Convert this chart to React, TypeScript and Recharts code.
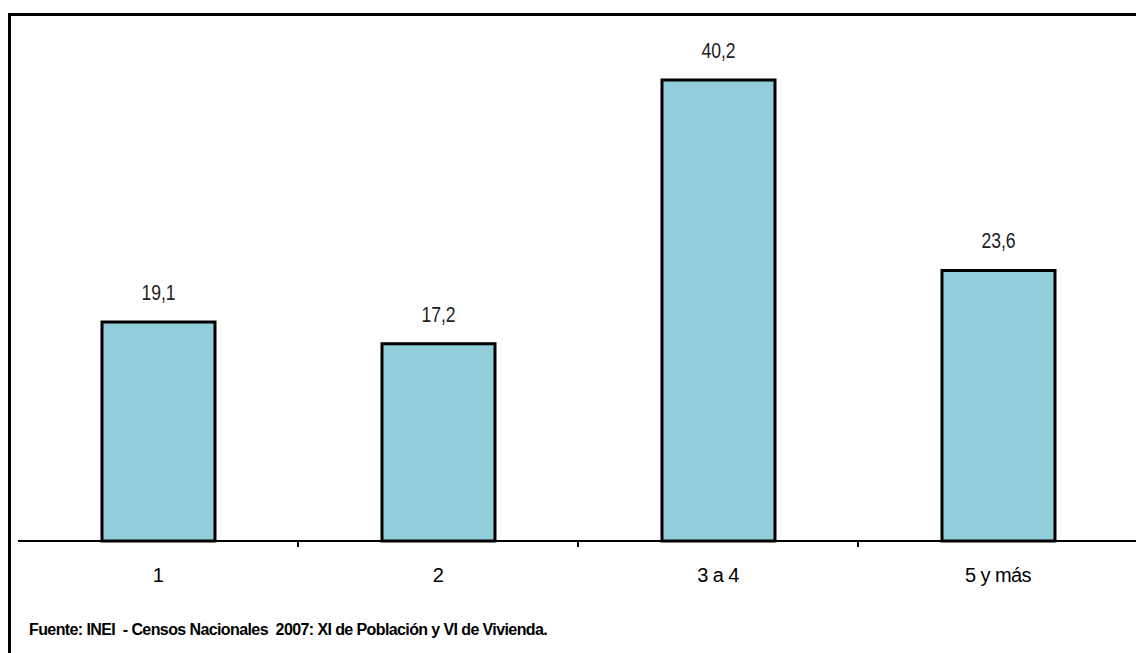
import React from "react";
import { BarChart, Bar, XAxis, YAxis, LabelList } from "recharts";

const categories = ["1", "2", "3 a 4", "5 y más"];
const values = [19.1, 17.2, 40.2, 23.6];
const yDomain = [0, 45];
const source = "Fuente: INEI  - Censos Nacionales  2007: XI de Población y VI de Vivienda.";

const data = categories.map((c, i) => ({ cat: c, value: values[i] }));

const fmt = (v: any) => String(v).replace(".", ",");

const CatTick = (props: any) => {
  const { x, y, payload, index } = props;
  const axisY = y - 24;
  return (
    <g>
      {index > 0 ? (
        <line x1={x - payload.offset} x2={x - payload.offset} y1={axisY} y2={axisY + 6} stroke="#000" strokeWidth={2} />
      ) : null}
      <text x={x} y={y} dy={17} textAnchor="middle" fill="#000" fontSize={20} fontFamily="'Liberation Sans', Arial, sans-serif" letterSpacing={-0.6}>
        {payload.value}
      </text>
    </g>
  );
};

const ValueLabel = (props: any) => {
  const { x, y, width, value } = props;
  const cx = x + width / 2;
  return (
    <g transform={`translate(${cx},${y - 22}) scale(0.8,1)`}>
      <text x={0} y={0} textAnchor="middle" fill="#222" fontSize={22} fontFamily="'Liberation Sans', Arial, sans-serif">
        {fmt(value)}
      </text>
    </g>
  );
};

export default function App() {
  return (
    <div style={{ position: "absolute", left: 0, top: 0, width: 1136, height: 653, overflow: "hidden", background: "#fff" }}>
      <div style={{ position: "absolute", left: 8, top: 13, width: 1200, height: 700, borderLeft: "3px solid #000", borderTop: "3px solid #000" }} />
      <div style={{ position: "absolute", left: 0, top: 0 }}>
        <BarChart width={1140} height={653} data={data} margin={{ top: 25, left: 18, right: 2, bottom: 72 }} barCategoryGap="29%">
          <YAxis domain={yDomain} hide />
          <XAxis
            dataKey="cat"
            height={40}
            axisLine={{ stroke: "#000", strokeWidth: 2 }}
            tickLine={false}
            tickSize={0}
            tickMargin={24}
            tick={<CatTick />}
            interval={0}
          />
          <Bar dataKey="value" fill="#92CDDC" stroke="#000" strokeWidth={3} barSize={113} isAnimationActive={false}>
            <LabelList dataKey="value" content={<ValueLabel />} />
          </Bar>
        </BarChart>
      </div>
      <div style={{ position: "absolute", left: 29, top: 621, fontFamily: "'Liberation Sans', Arial, sans-serif", fontWeight: "bold", fontSize: 16, letterSpacing: -0.6, color: "#000", whiteSpace: "pre" }}>
        {source}
      </div>
    </div>
  );
}
